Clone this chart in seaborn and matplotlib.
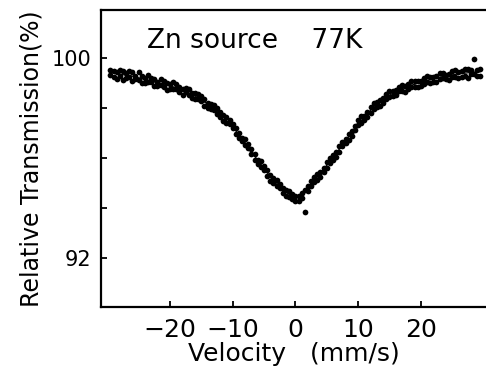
import numpy as np
import pandas as pd
import matplotlib
matplotlib.use('Agg')
import matplotlib.pyplot as plt
import seaborn as sns

# --- data ---------------------------------------------------------------
velocity = [-29.5, -29.0, -28.5, -28.0, -27.5, -27.0, -26.5, -26.0, -25.5, -25.0,
            -24.5, -24.0, -23.5, -23.0, -22.5, -22.0, -21.5, -21.0, -20.5, -20.0,
            -19.5, -19.0, -18.5, -18.0, -17.5, -17.0, -16.5, -16.0, -15.5, -15.0,
            -14.5, -14.0, -13.5, -13.0, -12.5, -12.0, -11.5, -11.0, -10.5, -10.0,
            -9.5, -9.0, -8.5, -8.0, -7.5, -7.0, -6.5, -6.0, -5.5, -5.0,
            -4.5, -4.0, -3.5, -3.0, -2.5, -2.0, -1.5, -1.0, -0.5, 0.0,
            0.5, 1.0, 1.5, 2.0, 2.5, 3.0, 3.5, 4.0, 4.5, 5.0,
            5.5, 6.0, 6.5, 7.0, 7.5, 8.0, 8.5, 9.0, 9.5, 10.0,
            10.5, 11.0, 11.5, 12.0, 12.5, 13.0, 13.5, 14.0, 14.5, 15.0,
            15.5, 16.0, 16.5, 17.0, 17.5, 18.0, 18.5, 19.0, 19.5, 20.0,
            20.5, 21.0, 21.5, 22.0, 22.5, 23.0, 23.5, 24.0, 24.5, 25.0,
            25.5, 26.0, 26.5, 27.0, 27.5, 28.0, 28.5, 29.0, 29.5]

trans_a = [99.52, 99.23, 99.41, 99.52, 99.10, 99.39, 99.23, 99.42, 99.13, 99.41,
           99.00, 99.19, 99.02, 99.20, 98.85, 99.03, 99.14, 98.83, 98.99, 98.74,
           99.03, 98.75, 98.84, 98.51, 98.78, 98.49, 98.58, 98.34, 98.56, 98.26,
           98.35, 97.99, 98.14, 97.93, 98.00, 97.64, 97.71, 97.41, 97.53, 97.18,
           97.18, 96.79, 96.81, 96.52, 96.56, 96.14, 96.14, 95.76, 95.89, 95.50,
           95.50, 95.09, 95.19, 94.88, 94.97, 94.61, 94.70, 94.44, 94.57, 94.28,
           94.48, 94.38, 94.72, 94.69, 95.08, 95.03, 95.34, 95.25, 95.61, 95.61,
           96.01, 95.90, 96.23, 96.25, 96.65, 96.60, 96.96, 96.86, 97.27, 97.30,
           97.66, 97.52, 97.84, 97.81, 98.20, 98.03, 98.31, 98.20, 98.54, 98.44,
           98.67, 98.50, 98.84, 98.68, 98.86, 98.74, 99.06, 98.84, 99.05, 98.85,
           99.17, 99.04, 99.22, 99.02, 99.28, 99.15, 99.40, 99.14, 99.35, 99.24,
           99.50, 99.17, 99.46, 99.27, 99.54, 99.35, 99.95, 99.28, 99.54]

trans_b = [99.30, 99.46, 99.16, 99.28, 99.46, 99.18, 99.48, 99.08, 99.27, 99.12,
           99.28, 98.99, 99.29, 99.04, 99.13, 98.85, 98.90, 99.07, 98.71, 98.93,
           98.75, 98.94, 98.61, 98.76, 98.62, 98.76, 98.38, 98.57, 98.34, 98.45,
           98.07, 98.19, 97.96, 98.12, 97.74, 97.82, 97.49, 97.64, 97.34, 97.35,
           96.95, 97.01, 96.66, 96.76, 96.38, 96.34, 95.92, 95.93, 95.64, 95.67,
           95.27, 95.32, 95.01, 95.12, 94.79, 94.79, 94.47, 94.66, 94.34, 94.49,
           94.26, 94.60, 93.84, 94.87, 94.86, 95.23, 95.12, 95.44, 95.44, 95.83,
           95.79, 96.10, 96.02, 96.47, 96.46, 96.77, 96.70, 97.08, 97.10, 97.52,
           97.39, 97.69, 97.64, 98.02, 97.96, 98.23, 98.08, 98.39, 98.34, 98.65,
           98.46, 98.72, 98.67, 98.90, 98.64, 98.95, 98.84, 99.05, 98.84, 99.06,
           98.96, 99.25, 99.00, 99.22, 99.02, 99.37, 99.18, 99.31, 99.09, 99.45,
           99.23, 99.43, 99.24, 99.55, 99.19, 99.51, 99.33, 99.50, 99.28]

# fitted curve drawn through the points
fit_v = [-29.5, -28, -26, -24, -22, -20, -18, -16, -14, -12, -10, -8, -6, -4,
         -2, -1, 0, 1, 2, 4, 6, 8, 10, 12, 14, 16, 18, 20, 22, 24, 26, 28, 29.5]
fit_t = [99.40, 99.34, 99.26, 99.13, 99.01, 98.88, 98.69, 98.47, 98.15, 97.76,
         97.24, 96.60, 95.90, 95.25, 94.74, 94.54, 94.43, 94.50, 94.80, 95.39,
         96.02, 96.67, 97.35, 97.90, 98.34, 98.65, 98.86, 99.01, 99.16, 99.27,
         99.35, 99.41, 99.44]

x_ticks = [-20, -10, 0, 10, 20]
x_ticklabels = ['\u221220', '\u221210', '0', '10', '20']
y_ticks = [92, 94, 96, 98, 100]
y_ticklabels = ['92', '', '', '', '100']

pts = pd.DataFrame({'v': velocity + velocity, 't': trans_a + trans_b})
fit = pd.DataFrame({'v': fit_v, 't': fit_t})

sns.set_style('ticks')
plt.rcParams['font.family'] = ['DejaVu Sans']
plt.rcParams['text.color'] = 'black'
plt.rcParams['axes.labelcolor'] = 'black'

fig = plt.figure(figsize=(4.86, 3.77), dpi=100)
ax = fig.add_axes([101 / 486, 1 - 307 / 377, 1 - 101 / 486, 297 / 377])

sns.lineplot(data=fit, x='v', y='t', ax=ax, color='black', lw=0.9, zorder=2)
sns.scatterplot(data=pts, x='v', y='t', ax=ax, color='black', s=17,
                linewidth=0, zorder=3)

ax.set_xlim(-31, 30.4)
ax.set_ylim(90.05, 101.9)
ax.set_xticks(x_ticks)
ax.set_xticklabels(x_ticklabels, fontsize=18)
ax.set_yticks(y_ticks)
ax.set_yticklabels(y_ticklabels, fontsize=15)
ax.tick_params(direction='in', length=4, width=1.3, colors='black')
ax.tick_params(axis='x', pad=8)
ax.tick_params(axis='y', pad=7)

for side in ['left', 'bottom', 'top']:
    ax.spines[side].set_linewidth(1.6)
    ax.spines[side].set_color('black')
ax.spines['right'].set_visible(False)

ax.set_xlabel('Velocity   (mm/s)', fontsize=18, labelpad=0)
ax.set_ylabel('Relative Transmission(%)', fontsize=17, labelpad=6)

ax.text(0.12, 0.872, 'Zn source    77K', transform=ax.transAxes,
        fontsize=19, va='baseline', ha='left')

fig.savefig('out.png', dpi=100)
